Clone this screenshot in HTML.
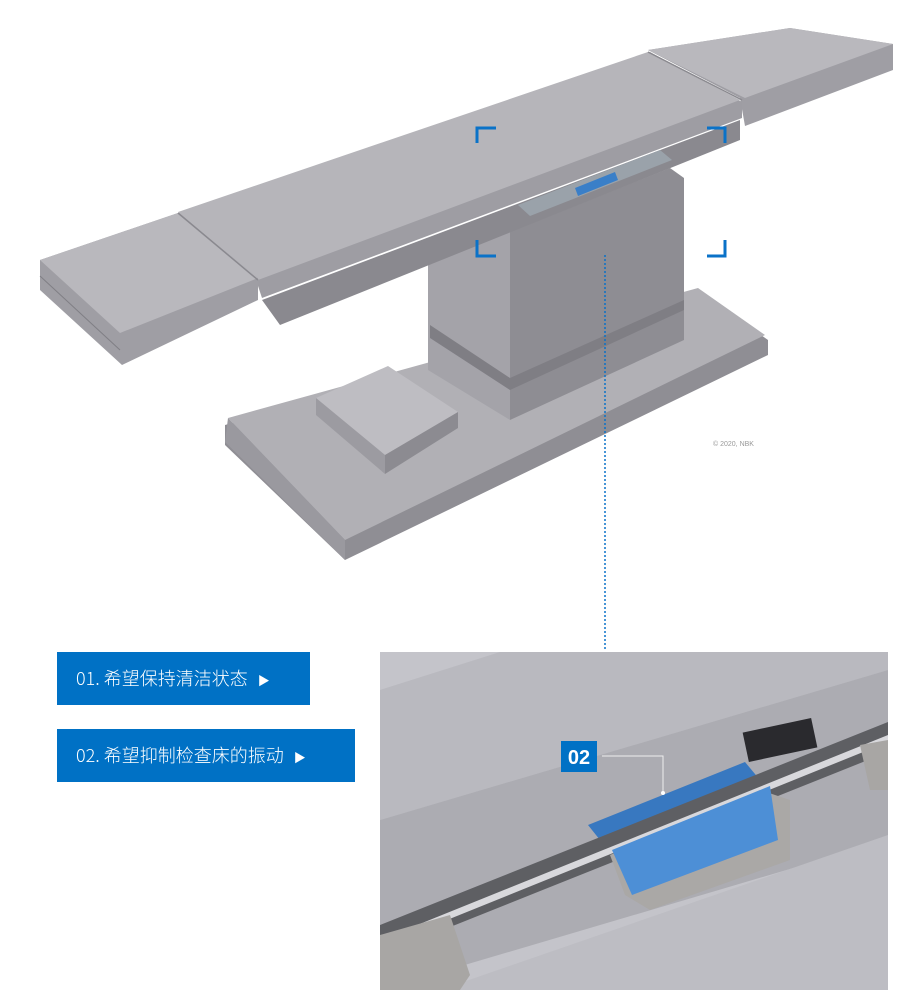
<!DOCTYPE html>
<html><head><meta charset="utf-8"><style>
body{margin:0;width:920px;height:996px;background:#fff;position:relative;overflow:hidden;font-family:"Liberation Sans","Noto Sans CJK SC",sans-serif}
.btn{position:absolute;background:#0071c5;color:#fff;font-size:18px;line-height:53px;padding-left:19px;box-sizing:border-box;font-family:"Noto Sans CJK SC",sans-serif;font-weight:300}
.btn span{font-size:12px;margin-left:10px}
</style></head><body>
<svg width="920" height="996" style="position:absolute;left:0;top:0">
<!-- base -->
<polygon points="225,425 700,292 768,340 768,355 345,560 225,445" fill="#8f8e94"/>
<polygon points="228,418 698,288 765,335 345,540" fill="#b1b0b5"/>
<polygon points="228,418 345,540 345,560 225,442" fill="#9a999f"/>
<!-- box on base -->
<polygon points="316,398 388,366 458,412 385,455" fill="#bebdc2"/>
<polygon points="316,398 385,455 385,474 316,415" fill="#9c9ba1"/>
<polygon points="385,455 458,412 458,428 385,474" fill="#8c8b91"/>
<!-- column -->
<polygon points="428,262 510,232 510,420 428,370" fill="#a4a3a9"/>
<polygon points="510,232 670,168 684,178 684,340 510,420" fill="#8e8d93"/>
<polygon points="430,325 510,378 684,300 684,310 510,390 430,338" fill="#7f7e84"/>
<!-- underside -->
<polygon points="262,300 740,120 740,140 280,325" fill="#8a898f"/>
<!-- right pad -->
<polygon points="648,50 790,28 893,44 893,70 745,126 740,98" fill="#9f9ea4"/>
<polygon points="648,50 790,28 893,44 745,98" fill="#b9b8bd"/>
<!-- main top -->
<polygon points="176,214 650,52 742,102 742,118 262,298 256,280" fill="#9e9da3"/>
<polygon points="178,212 648,52 740,100 258,280" fill="#b6b5ba"/>
<!-- left pad -->
<polygon points="40,260 178,213 258,278 258,300 122,365 40,290" fill="#9f9ea4"/>
<polygon points="40,260 178,213 258,278 120,333" fill="#b9b8bd"/>
<line x1="40" y1="276" x2="120" y2="350" stroke="#807f85"/>
<line x1="178" y1="213" x2="258" y2="280" stroke="#8a898f" stroke-width="1.5"/>
<line x1="648" y1="52" x2="742" y2="100" stroke="#8a898f" stroke-width="1.5"/>
<!-- rail -->
<polygon points="518,205 660,150 672,160 530,216" fill="#9aa2aa"/>
<polygon points="575,188 615,172 618,180 578,196" fill="#3a7fc8"/>
<!-- brackets -->
<g stroke="#0a72c8" stroke-width="3" fill="none">
<path d="M477,143 V128 H496"/><path d="M707,128 H725 V143"/>
<path d="M477,240 V256 H496"/><path d="M707,256 H725 V240"/>
</g>
<line x1="605" y1="255" x2="605" y2="651" stroke="#0a72c8" stroke-width="1.5" stroke-dasharray="2,2"/>
<text x="713" y="446" font-size="7" fill="#999" font-family="Liberation Sans">© 2020, NBK</text>
<!-- inset -->
<rect x="380" y="652" width="508" height="338" fill="#c4c4ca"/>
<polygon points="380,690 500,652 888,652 888,670 380,820" fill="#b9b9bf"/>
<polygon points="380,820 888,670 888,840 380,990" fill="#acacb2"/>
<polygon points="440,990 888,835 888,990" fill="#bdbdc3"/>
<polygon points="588,825 745,762 760,780 600,840" fill="#3878c0"/>
<rect x="745" y="725" width="70" height="30" fill="#2a2a2e" transform="rotate(-12 780 740)"/>
<polygon points="380,925 888,722 888,752 380,955" fill="#5e5f63"/>
<polygon points="380,940 888,735 888,742 380,947" fill="#d8d8dc"/>
<polygon points="610,855 760,790 790,800 790,860 650,910 625,895" fill="#aaa8a6"/>
<polygon points="612,850 770,786 778,840 632,895" fill="#4d8fd6"/>
<polygon points="380,935 450,915 470,975 460,990 380,990" fill="#a8a6a4"/>
<polygon points="860,745 888,740 888,790 870,790" fill="#a8a6a4"/>
<rect x="561" y="741" width="36" height="31" fill="#0071c5"/>
<text x="579" y="764" font-size="20" fill="#fff" text-anchor="middle" font-weight="bold" font-family="Liberation Sans">02</text>
<polyline points="602,756 663,756 663,792" fill="none" stroke="#eee" stroke-width="1"/>
<circle cx="663" cy="793" r="2" fill="#fff"/>
</svg>
<div class="btn" style="left:57px;top:652px;width:253px;height:53px">01. 希望保持清洁状态<span>▶</span></div>
<div class="btn" style="left:57px;top:729px;width:298px;height:53px">02. 希望抑制检查床的振动<span>▶</span></div>
</body></html>
